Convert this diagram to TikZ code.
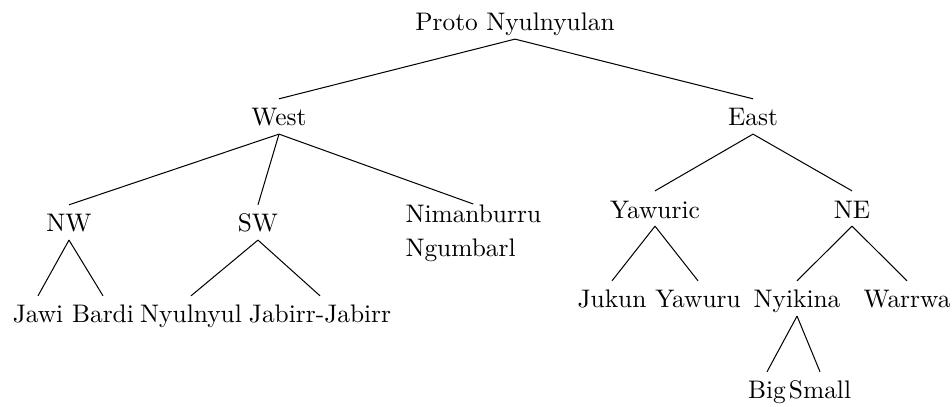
\documentclass[tikz,border=0pt]{standalone}
\begin{document}
\begin{tikzpicture}[
    lang/.style={anchor=base, inner sep=1.5pt, text height=9pt, text depth=1.5pt},
    multi/.style={anchor=north west, inner sep=0pt, align=left}
    ]
    \useasboundingbox (0,0) rectangle (13.178,5.620);
    % root and the two branches
    \node[lang] (proto) at (7.129,5.191) {Proto Nyulnyulan};
    \node[lang] (west) at (3.862,3.876) {West};
    \node[lang] (east) at (10.424,3.876) {East};
    % west subgroups
    \node[lang] (nw) at (0.955,2.409) {NW};
    \node[lang] (sw) at (3.571,2.409) {SW};
    \node[multi] (nim) at (5.606,2.796) {Nimanburru\\[1.5pt]Ngumbarl};
    \node[lang] (jawi) at (0.526,1.149) {Jawi};
    \node[lang] (bardi) at (1.426,1.149) {Bardi};
    \node[lang] (nyul) at (2.644,1.149) {Nyulnyul};
    \node[lang] (jabirr) at (4.430,1.149) {Jabirr-Jabirr};
    % east subgroups
    \node[lang] (yawuric) at (9.067,2.602) {Yawuric};
    \node[lang] (ne) at (11.794,2.602) {NE};
    \node[lang] (jukun) at (8.472,1.357) {Jukun};
    \node[lang] (yawuru) at (9.662,1.357) {Yawuru};
    \node[lang] (nyikina) at (11.033,1.357) {Nyikina};
    \node[lang] (warrwa) at (12.555,1.357) {Warrwa};
    \node[lang] (big) at (10.617,0.097) {Big};
    \node[lang] (small) at (11.351,0.097) {Small};

    \draw (proto.south) -- (west.north);
    \draw (proto.south) -- (east.north);
    \draw (west.south) -- (nw.north);
    \draw (west.south) -- (sw.north);
    \draw (west.south) -- (nim.north);
    \draw (nw.south) -- (jawi.north);
    \draw (nw.south) -- (bardi.north);
    \draw (sw.south) -- (nyul.north);
    \draw (sw.south) -- (jabirr.north);
    \draw (east.south) -- (yawuric.north);
    \draw (east.south) -- (ne.north);
    \draw (yawuric.south) -- (jukun.north);
    \draw (yawuric.south) -- (yawuru.north);
    \draw (ne.south) -- (nyikina.north);
    \draw (ne.south) -- (warrwa.north);
    \draw (nyikina.south) -- (big.north);
    \draw (nyikina.south) -- (small.north);
\end{tikzpicture}
\end{document}
